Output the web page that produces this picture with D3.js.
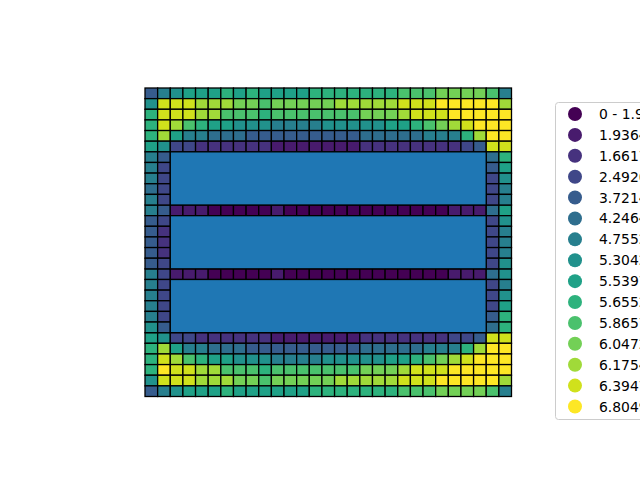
<!DOCTYPE html>
<html>
<head>
    <meta charset="utf-8">
    <title>Grid classes</title>
    <style>
        html, body { margin: 0px; padding: 0px; background: #fff; }
        svg { display: block; }
        text { font-family: 'DejaVu Sans', sans-serif; }
    </style>
    <script src="https://d3js.org/d3.v7.min.js"></script>
</head>
<body>
<script>

    // class index (0-14) of each cell, full-width rows
    var bandRows = [0, 1, 2, 3, 4, 5, 11, 17, 23, 24, 25, 26, 27, 28];
    var bandValues = [
        [4,6,7,8,8,8,9,8,9,8,8,8,8,9,9,9,9,9,9,9,10,10,10,11,11,11,11,10,6],
        [7,13,13,13,12,12,12,11,11,10,11,11,11,11,11,12,12,12,12,12,13,13,13,14,14,14,14,14,12],
        [9,13,13,13,12,12,10,10,10,9,10,10,10,10,10,10,10,11,11,11,12,13,13,13,14,14,14,14,14],
        [9,13,12,10,9,8,8,7,7,7,6,6,6,6,7,7,7,7,7,8,8,9,10,11,12,13,14,14,14],
        [9,12,8,6,6,5,5,5,4,4,4,4,4,4,4,4,4,5,5,5,5,5,6,6,6,9,12,14,14],
        [8,7,3,3,2,2,2,2,2,2,1,1,1,1,1,1,1,2,2,2,2,2,2,2,2,3,4,13,13],
        [6,4,1,1,1,0,0,0,0,0,1,0,0,0,0,0,0,0,0,0,0,0,0,0,1,1,1,5,8],
        [6,3,1,1,1,0,0,0,0,0,1,0,0,0,0,0,0,0,0,0,0,0,0,0,1,1,1,5,7],
        [8,7,3,3,2,2,2,2,2,2,1,1,1,1,1,1,1,2,2,2,2,2,2,2,3,3,4,13,13],
        [9,12,8,6,6,5,5,5,4,4,4,4,4,4,4,4,4,5,5,5,5,5,6,6,6,9,12,14,14],
        [9,13,12,10,9,8,8,7,7,7,6,6,6,6,7,7,7,7,7,8,8,9,10,11,12,13,14,14,14],
        [9,14,13,13,12,12,10,10,10,9,10,10,10,10,10,10,10,11,11,11,12,13,13,13,14,14,14,14,14],
        [7,13,13,13,12,12,12,11,11,10,11,11,11,11,11,12,12,12,12,12,13,13,13,14,14,14,14,14,12],
        [4,6,7,8,8,8,9,8,8,8,8,8,8,9,9,9,9,9,9,9,10,10,10,11,11,11,11,10,6]
    ];

    // rows that only have the two outer columns on each side
    var sideRows = [6, 7, 8, 9, 10, 12, 13, 14, 15, 16, 18, 19, 20, 21, 22];
    var sideCols = [0, 1, 27, 28];
    var sideValues = [
        [6,4,5,9], [6,3,4,8], [6,3,3,7], [5,3,3,6], [6,3,3,6],
        [4,3,3,7], [4,2,3,6], [4,2,3,6], [4,2,3,6], [4,3,3,7],
        [6,3,3,6], [6,3,3,7], [6,3,3,8], [6,3,4,9], [7,4,5,9]
    ];

    // the three plain blocks: [firstRow, lastRow + 1], columns 2..26
    var blocks = [[6, 11], [12, 17], [18, 23]];
    var blockCols = [2, 27];

    var legendLabels = ["0 - 1.9364", "1.9364", "1.6617", "2.4920", "3.7214", "4.2464",
        "4.7552", "5.3042", "5.5397", "5.6552", "5.8657", "6.0472", "6.1754",
        "6.3947", "6.8049"];

    var nCols = 29, nRows = 29;

    var svg = d3.select("body").append("svg")
        .attr("width", 640)
        .attr("height", 480);

    var xScale = d3.scaleLinear().domain([0, nCols]).range([145, 511.5]);
    var yScale = d3.scaleLinear().domain([0, nRows]).range([88, 396.5]);

    var color = function(k) {
        return d3.interpolateViridis(k / (legendLabels.length - 1));
    };

    var cells = [];
    bandRows.forEach(function(r, i) {
        bandValues[i].forEach(function(v, c) {
            cells.push({ row: r, col: c, k: v });
        });
    });
    sideRows.forEach(function(r, i) {
        sideValues[i].forEach(function(v, j) {
            cells.push({ row: r, col: sideCols[j], k: v });
        });
    });

    var g = svg.append("g");

    g.selectAll("rect.cell").data(cells)
        .enter().append("rect")
        .attr("class", "cell")
        .attr("x", function(d) { return xScale(d.col); })
        .attr("y", function(d) { return yScale(d.row); })
        .attr("width", function(d) { return xScale(d.col + 1) - xScale(d.col); })
        .attr("height", function(d) { return yScale(d.row + 1) - yScale(d.row); })
        .attr("fill", function(d) { return color(d.k); })
        .attr("stroke", "#000")
        .attr("stroke-width", 1.3);

    g.selectAll("rect.block").data(blocks)
        .enter().append("rect")
        .attr("class", "block")
        .attr("x", xScale(blockCols[0]))
        .attr("y", function(d) { return yScale(d[0]); })
        .attr("width", xScale(blockCols[1]) - xScale(blockCols[0]))
        .attr("height", function(d) { return yScale(d[1]) - yScale(d[0]); })
        .attr("fill", "#1f77b4")
        .attr("stroke", "#000")
        .attr("stroke-width", 1.3);

    // legend
    var legendY = d3.scaleLinear().domain([0, legendLabels.length - 1]).range([114, 406.5]);

    var legend = svg.append("g");

    legend.append("rect")
        .attr("x", 555.5)
        .attr("y", 102.5)
        .attr("width", 120)
        .attr("height", 317)
        .attr("rx", 3)
        .attr("fill", "#fff")
        .attr("fill-opacity", 0.8)
        .attr("stroke", "#cccccc")
        .attr("stroke-width", 1);

    var items = legend.selectAll("g.item").data(legendLabels)
        .enter().append("g")
        .attr("class", "item")
        .attr("transform", function(d, i) { return "translate(0," + legendY(i) + ")"; });

    items.append("circle")
        .attr("cx", 575)
        .attr("cy", 0)
        .attr("r", 7)
        .attr("fill", function(d, i) { return color(i); });

    items.append("text")
        .attr("x", 599)
        .attr("y", 5)
        .attr("font-size", "13.9px")
        .attr("fill", "#000")
        .text(function(d) { return d; });

</script>
</body>
</html>
